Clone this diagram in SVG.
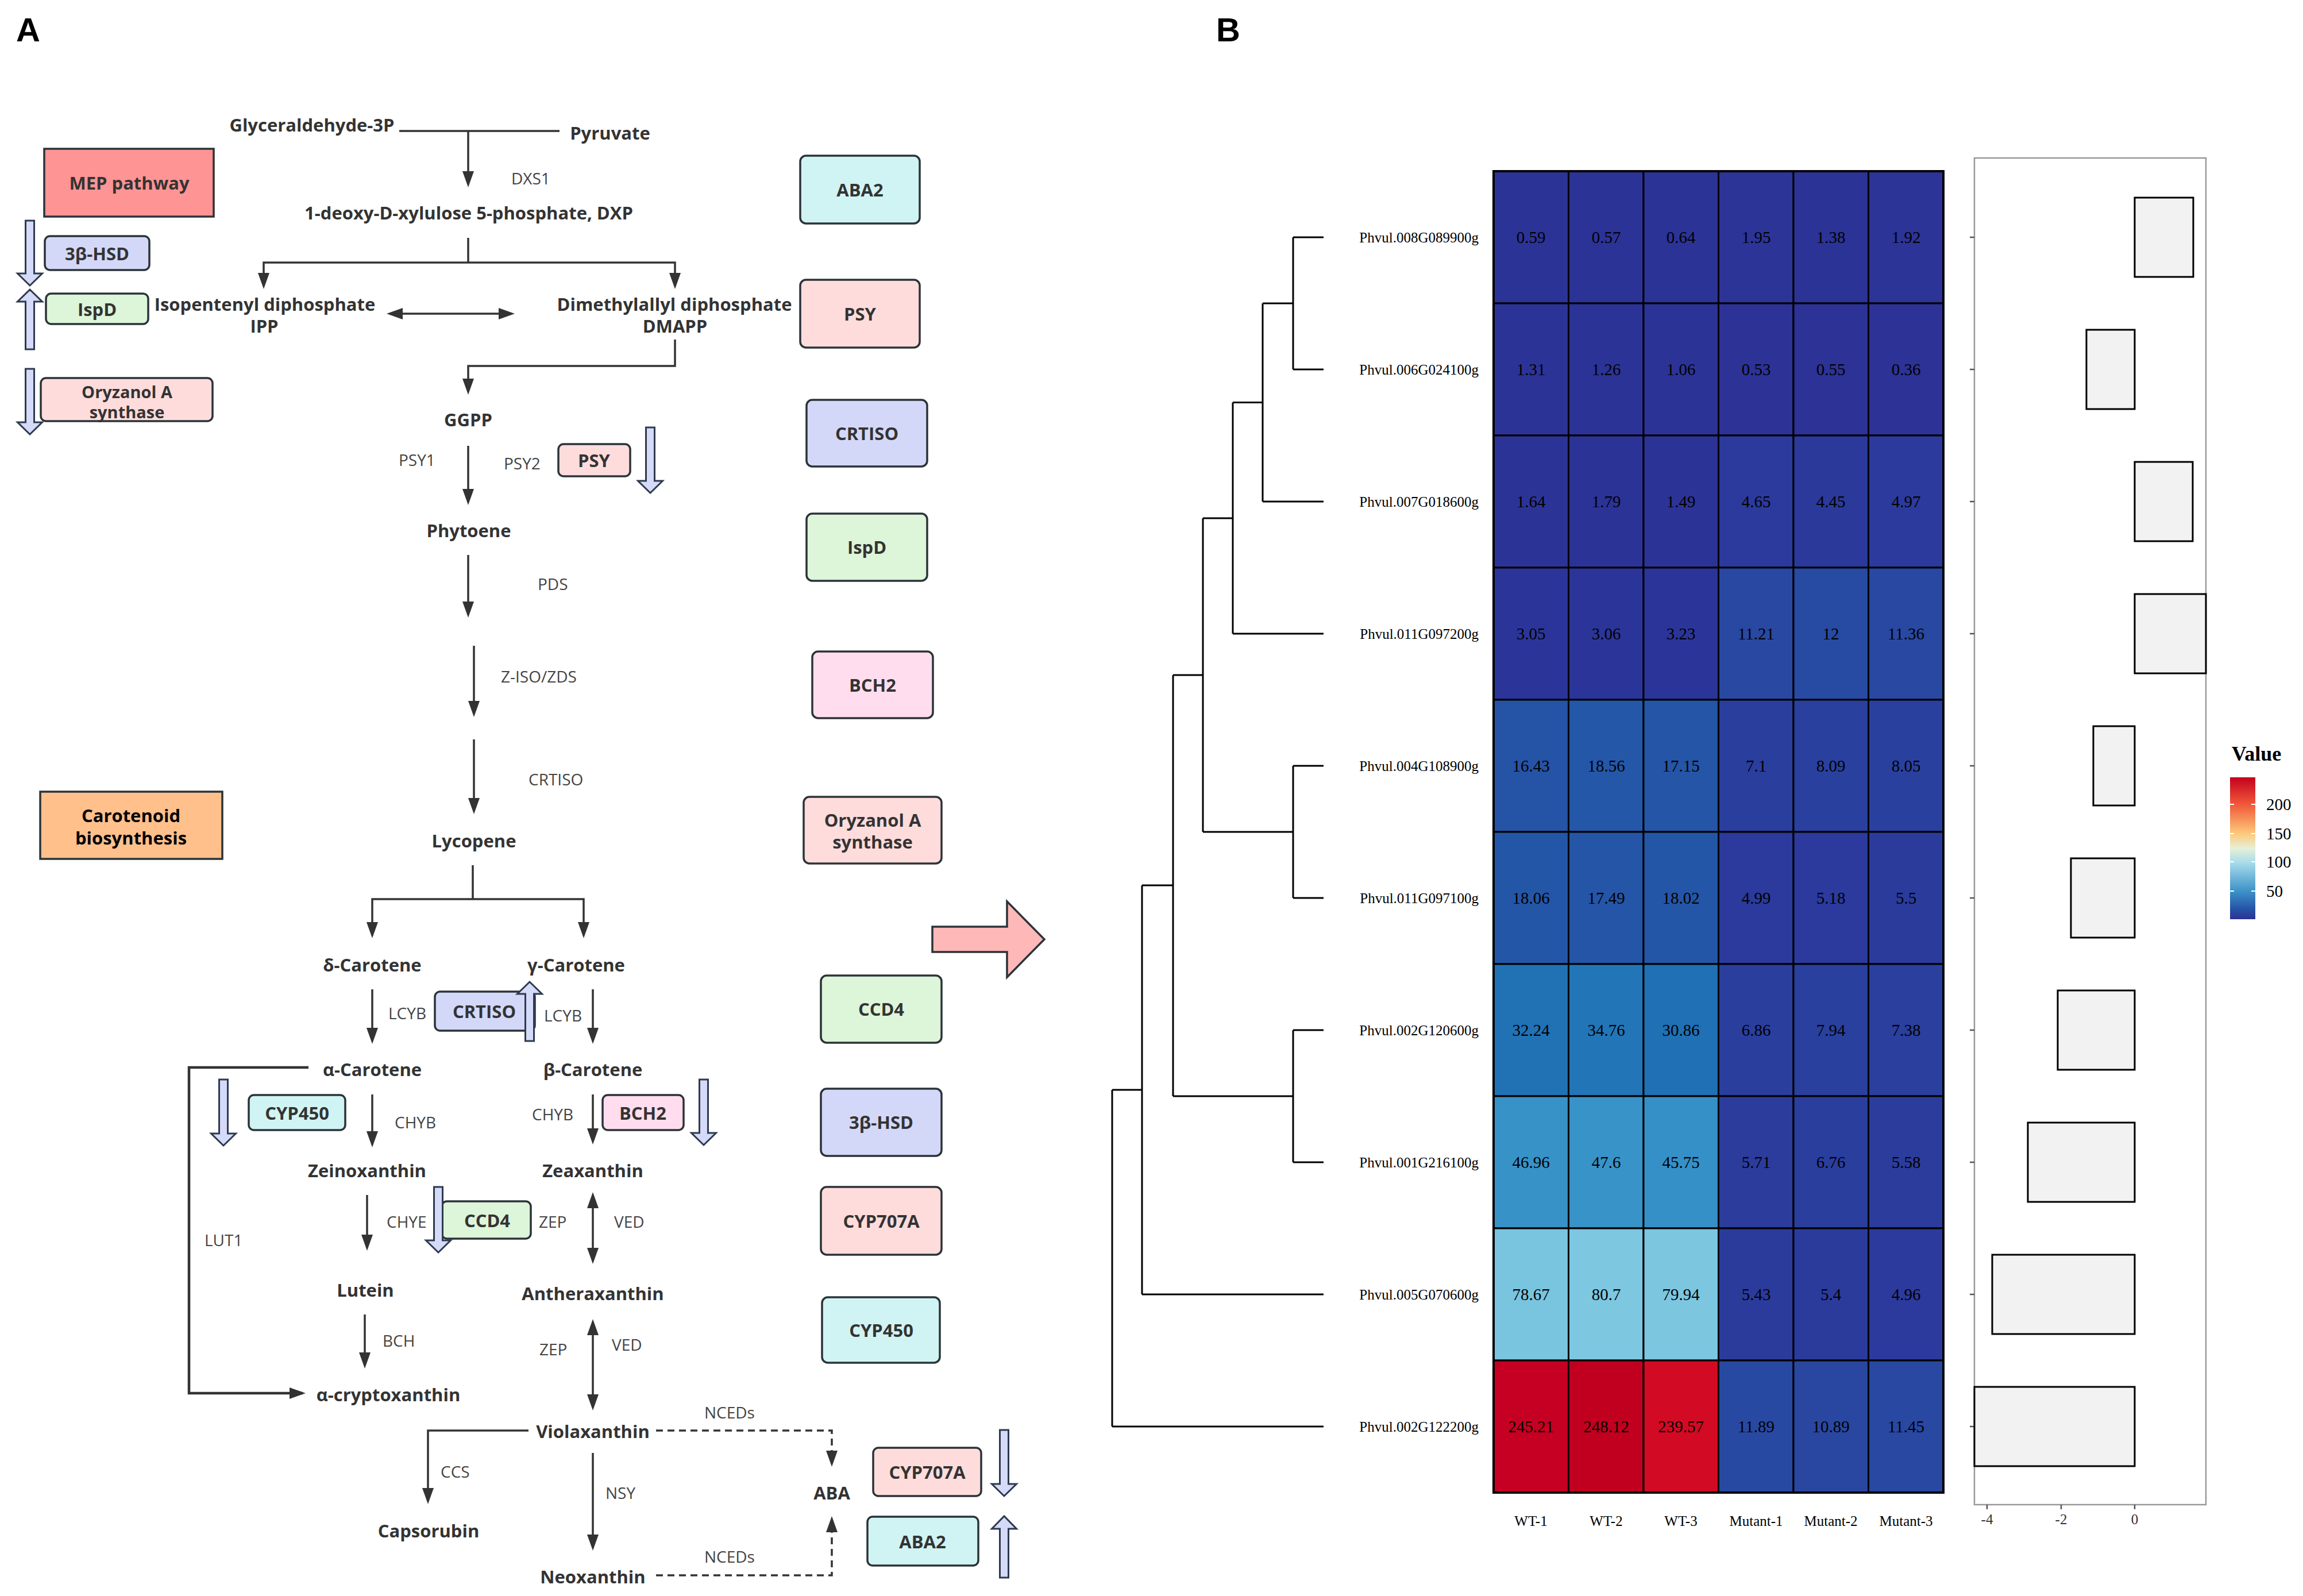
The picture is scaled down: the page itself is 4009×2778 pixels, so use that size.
<svg xmlns="http://www.w3.org/2000/svg" width="4009" height="2778" viewBox="0 0 4009 2778">
<style>
.m{font-family:"Open Sans","Noto Sans",sans-serif;font-weight:700;font-size:31px;fill:#333;text-anchor:middle;dominant-baseline:central}
.bt{font-family:"Open Sans","Noto Sans",sans-serif;font-weight:700;font-size:31px;fill:#333;text-anchor:middle;dominant-baseline:central}
.e{font-family:"Open Sans","Noto Sans",sans-serif;font-weight:400;font-size:28px;fill:#444;dominant-baseline:central}
.bx{stroke:#2B3338;stroke-width:3.5}
.ln{fill:none;stroke:#333;stroke-width:3.5}
.ds{fill:none;stroke:#333;stroke-width:3.5;stroke-dasharray:12 8}
.ba{fill:#D4DAF8;stroke:#2E3A4E;stroke-width:3}
.pl{font-family:"Liberation Sans",Arial,sans-serif;font-weight:700;font-size:58px;fill:#000}
.s{font-family:"Liberation Serif","Times New Roman",serif;fill:#000}
.v{font-size:29px;text-anchor:middle;dominant-baseline:central}
.g{font-size:25px;text-anchor:end;dominant-baseline:central}
.cl{font-size:25px;text-anchor:middle;dominant-baseline:central}
.cell{stroke:#000;stroke-width:3}
.dl{fill:none;stroke:#000;stroke-width:3}
.bar{fill:#F2F2F2;stroke:#000;stroke-width:3}
.cyan{fill:#D0F4F4}.pink{fill:#FFDCDC}.lav{fill:#D4D8F8}.grn{fill:#DDF5D8}.mag{fill:#FFDDEE}
</style>
<defs>
<marker id="ah" viewBox="0 0 28 20" refX="23" refY="10" markerWidth="28" markerHeight="20" markerUnits="userSpaceOnUse" orient="auto-start-reverse"><path d="M0,0 L28,10 L0,20 Z" fill="#333"/></marker>
<linearGradient id="cb" x1="0" y1="0" x2="0" y2="1">
<stop offset="0" stop-color="#C4001E"/>
<stop offset="0.19" stop-color="#F0583A"/>
<stop offset="0.395" stop-color="#FDC87A"/>
<stop offset="0.5" stop-color="#E6F0D8"/>
<stop offset="0.6" stop-color="#A8DCEB"/>
<stop offset="0.8" stop-color="#3E93C9"/>
<stop offset="0.93" stop-color="#2553A6"/>
<stop offset="1" stop-color="#2C3392"/>
</linearGradient>
</defs>
<rect width="4009" height="2778" fill="#fff"/>
<text class="pl" x="28" y="72">A</text>
<text class="pl" x="2117" y="72">B</text>

<!-- Panel A connectors -->
<g id="connectors">
<path class="ln" d="M695,228 H974"/>
<path class="ln" d="M815,228 V321" marker-end="url(#ah)"/>
<path class="ln" d="M815,414 V457"/>
<path class="ln" d="M459,498 V457 H1175 V498" marker-start="url(#ah)" marker-end="url(#ah)"/>
<path class="ln" d="M678,546 H891" marker-start="url(#ah)" marker-end="url(#ah)"/>
<path class="ln" d="M1175,591 V637 H815 V682" marker-end="url(#ah)"/>
<path class="ln" d="M815,776 V874" marker-end="url(#ah)"/>
<path class="ln" d="M815,966 V1070" marker-end="url(#ah)"/>
<path class="ln" d="M825,1124 V1243" marker-end="url(#ah)"/>
<path class="ln" d="M825,1287 V1412" marker-end="url(#ah)"/>
<path class="ln" d="M823,1506 V1565"/>
<path class="ln" d="M648,1628 V1565 H1016 V1628" marker-start="url(#ah)" marker-end="url(#ah)"/>
<path class="ln" d="M648,1722 V1812" marker-end="url(#ah)"/>
<path class="ln" d="M1032,1722 V1812" marker-end="url(#ah)"/>
<path class="ln" d="M537,1858 H329 V2425 H527" marker-end="url(#ah)" style="stroke-width:4.5"/>
<path class="ln" d="M648,1905 V1992" marker-end="url(#ah)"/>
<path class="ln" d="M1032,1905 V1987" marker-end="url(#ah)"/>
<path class="ln" d="M639,2080 V2172" marker-end="url(#ah)"/>
<path class="ln" d="M1032,2080 V2195" marker-start="url(#ah)" marker-end="url(#ah)"/>
<path class="ln" d="M635,2288 V2377" marker-end="url(#ah)"/>
<path class="ln" d="M1032,2301 V2450" marker-start="url(#ah)" marker-end="url(#ah)"/>
<path class="ln" d="M920,2490 H745 V2613" marker-end="url(#ah)"/>
<path class="ln" d="M1032,2529 V2694" marker-end="url(#ah)"/>
<path class="ds" d="M1142,2490 H1448 V2548" marker-end="url(#ah)"/>
<path class="ds" d="M1142,2742 H1448 V2644" marker-end="url(#ah)"/>
</g>

<!-- Enzyme labels -->
<g id="enzyme-labels">
<text class="e" x="890" y="310">DXS1</text>
<text class="e" x="694" y="800">PSY1</text>
<text class="e" x="877" y="806">PSY2</text>
<text class="e" x="936" y="1016">PDS</text>
<text class="e" x="872" y="1177">Z-ISO/ZDS</text>
<text class="e" x="920" y="1356">CRTISO</text>
<text class="e" x="676" y="1763">LCYB</text>
<text class="e" x="947" y="1767">LCYB</text>
<text class="e" x="687" y="1953">CHYB</text>
<text class="e" x="926" y="1939">CHYB</text>
<text class="e" x="673" y="2126">CHYE</text>
<text class="e" x="938" y="2126">ZEP</text>
<text class="e" x="1069" y="2126">VED</text>
<text class="e" x="356" y="2158">LUT1</text>
<text class="e" x="666" y="2333">BCH</text>
<text class="e" x="939" y="2348">ZEP</text>
<text class="e" x="1065" y="2340">VED</text>
<text class="e" x="767" y="2561">CCS</text>
<text class="e" x="1054" y="2598">NSY</text>
<text class="e" x="1226" y="2458">NCEDs</text>
<text class="e" x="1226" y="2709">NCEDs</text>
</g>

<!-- Metabolites -->
<g id="n-glyceraldehyde"><text class="m" x="543" y="217">Glyceraldehyde-3P</text></g>
<g id="n-pyruvate"><text class="m" x="1062" y="231">Pyruvate</text></g>
<g id="n-dxp"><text class="m" x="816" y="370">1-deoxy-D-xylulose 5-phosphate, DXP</text></g>
<g id="n-ipp"><text class="m" x="461" y="529">Isopentenyl diphosphate</text><text class="m" x="460" y="567">IPP</text></g>
<g id="n-dmapp"><text class="m" x="1174" y="529">Dimethylallyl diphosphate</text><text class="m" x="1175" y="567">DMAPP</text></g>
<g id="n-ggpp"><text class="m" x="815" y="730">GGPP</text></g>
<g id="n-phytoene"><text class="m" x="816" y="923">Phytoene</text></g>
<g id="n-lycopene"><text class="m" x="825" y="1463">Lycopene</text></g>
<g id="n-dcar"><text class="m" x="648" y="1679">δ-Carotene</text></g>
<g id="n-gcar"><text class="m" x="1003" y="1679">γ-Carotene</text></g>
<g id="n-acar"><text class="m" x="648" y="1861">α-Carotene</text></g>
<g id="n-bcar"><text class="m" x="1032" y="1861">β-Carotene</text></g>
<g id="n-zein"><text class="m" x="639" y="2037">Zeinoxanthin</text></g>
<g id="n-zea"><text class="m" x="1032" y="2037">Zeaxanthin</text></g>
<g id="n-lutein"><text class="m" x="636" y="2245">Lutein</text></g>
<g id="n-anth"><text class="m" x="1032" y="2251">Antheraxanthin</text></g>
<g id="n-acrypt"><text class="m" x="676" y="2427">α-cryptoxanthin</text></g>
<g id="n-viola"><text class="m" x="1032" y="2491">Violaxanthin</text></g>
<g id="n-capso"><text class="m" x="746" y="2664">Capsorubin</text></g>
<g id="n-neo"><text class="m" x="1032" y="2744">Neoxanthin</text></g>
<g id="n-aba"><text class="m" x="1448" y="2598">ABA</text></g>

<!-- Title boxes -->
<g id="n-mep"><rect x="77" y="259" width="295" height="118" fill="#FF9494" class="bx"/><text class="bt" x="225" y="318">MEP pathway</text></g>
<g id="n-carot"><rect x="70" y="1378" width="317" height="117" fill="#FFC08C" class="bx"/><text class="bt" x="228" y="1419" style="fill:#000">Carotenoid</text><text class="bt" x="228" y="1458" style="fill:#000">biosynthesis</text></g>

<!-- Left small boxes -->
<g id="n-hsd-left"><rect x="78" y="411" width="182" height="59" rx="9" class="bx lav"/><text class="bt" x="169" y="441">3β-HSD</text></g>
<g id="n-ispd-left"><rect x="80" y="511" width="178" height="53" rx="9" class="bx grn"/><text class="bt" x="169" y="538">IspD</text></g>
<g id="n-ory-left"><rect x="71" y="658" width="299" height="75" rx="9" class="bx pink"/><text class="bt" x="221" y="681" style="font-size:29px">Oryzanol A</text><text class="bt" x="221" y="716" style="font-size:29px">synthase</text></g>

<!-- Inline small boxes -->
<g id="n-psy-small"><rect x="972" y="773" width="125" height="56" rx="9" class="bx pink"/><text class="bt" x="1034" y="801">PSY</text></g>
<g id="n-crtiso-small"><rect x="757" y="1726" width="174" height="68" rx="9" class="bx lav"/><text class="bt" x="843" y="1760">CRTISO</text></g>
<g id="n-cyp450-small"><rect x="433" y="1906" width="168" height="61" rx="9" class="bx cyan"/><text class="bt" x="517" y="1937">CYP450</text></g>
<g id="n-bch2-small"><rect x="1049" y="1906" width="141" height="61" rx="9" class="bx mag"/><text class="bt" x="1119" y="1937">BCH2</text></g>
<g id="n-ccd4-small"><rect x="769" y="2091" width="155" height="65" rx="9" class="bx grn"/><text class="bt" x="848" y="2124">CCD4</text></g>
<g id="n-cyp707a-small"><rect x="1520" y="2520" width="188" height="84" rx="9" class="bx pink"/><text class="bt" x="1614" y="2562">CYP707A</text></g>
<g id="n-aba2-small"><rect x="1510" y="2640" width="193" height="85" rx="9" class="bx cyan"/><text class="bt" x="1606" y="2683">ABA2</text></g>

<!-- Right column boxes -->
<g id="n-aba2-big"><rect x="1393" y="271" width="208" height="118" rx="10" class="bx cyan"/><text class="bt" x="1497" y="330">ABA2</text></g>
<g id="n-psy-big"><rect x="1393" y="487" width="208" height="118" rx="10" class="bx pink"/><text class="bt" x="1497" y="546">PSY</text></g>
<g id="n-crtiso-big"><rect x="1404" y="696" width="210" height="116" rx="10" class="bx lav"/><text class="bt" x="1509" y="754">CRTISO</text></g>
<g id="n-ispd-big"><rect x="1404" y="894" width="210" height="117" rx="10" class="bx grn"/><text class="bt" x="1509" y="952">IspD</text></g>
<g id="n-bch2-big"><rect x="1414" y="1134" width="210" height="116" rx="10" class="bx mag"/><text class="bt" x="1519" y="1192">BCH2</text></g>
<g id="n-ory-big"><rect x="1399" y="1387" width="240" height="116" rx="10" class="bx pink"/><text class="bt" x="1519" y="1427">Oryzanol A</text><text class="bt" x="1519" y="1465">synthase</text></g>
<g id="n-ccd4-big"><rect x="1429" y="1698" width="210" height="117" rx="10" class="bx grn"/><text class="bt" x="1534" y="1756">CCD4</text></g>
<g id="n-hsd-big"><rect x="1429" y="1895" width="210" height="117" rx="10" class="bx lav"/><text class="bt" x="1534" y="1953">3β-HSD</text></g>
<g id="n-cyp707a-big"><rect x="1429" y="2066" width="210" height="118" rx="10" class="bx pink"/><text class="bt" x="1534" y="2125">CYP707A</text></g>
<g id="n-cyp450-big"><rect x="1431" y="2258" width="205" height="114" rx="10" class="bx cyan"/><text class="bt" x="1534" y="2315">CYP450</text></g>

<!-- Block arrows (up/down regulation) -->
<g id="reg-arrows">
<path class="ba" d="M44.5,384 H59.5 V476 H73.5 L52,497 L30.5,476 H44.5 Z"/>
<path class="ba" d="M44.5,608 H59.5 V525 H73.5 L52,504 L30.5,525 H44.5 Z"/>
<path class="ba" d="M44.5,642 H59.5 V735 H73.5 L52,756 L30.5,735 H44.5 Z"/>
<path class="ba" d="M1124.5,744 H1139.5 V837 H1153.5 L1132,858 L1110.5,837 H1124.5 Z"/>
<path class="ba" d="M914.5,1812 H929.5 V1730 H943.5 L922,1709 L900.5,1730 H914.5 Z"/>
<path class="ba" d="M381.5,1879 H396.5 V1973 H410.5 L389,1994 L367.5,1973 H381.5 Z"/>
<path class="ba" d="M1217.5,1879 H1232.5 V1972 H1246.5 L1225,1993 L1203.5,1972 H1217.5 Z"/>
<path class="ba" d="M755.5,2066 H770.5 V2159 H784.5 L763,2180 L741.5,2159 H755.5 Z"/>
<path class="ba" d="M1740.5,2489 H1755.5 V2583 H1769.5 L1748,2604 L1726.5,2583 H1740.5 Z"/>
<path class="ba" d="M1740.5,2746 H1755.5 V2661 H1769.5 L1748,2639 L1726.5,2661 H1740.5 Z"/>
</g>

<!-- Big transition arrow -->
<g id="n-big-arrow"><path d="M1623,1613 H1753 V1569 L1818,1635 L1753,1701 V1657 H1623 Z" fill="#FFB8B8" stroke="#2B3338" stroke-width="3.5"/></g>

<!-- Panel B: dendrogram -->
<g id="dendrogram" class="dl">
<path d="M2251,413 H2304 M2251,643 H2304 M2251,413 V643"/>
<path d="M2198,528 H2251 M2198,873 H2304 M2198,528 V873"/>
<path d="M2146,700.5 H2198 M2146,1103 H2304 M2146,700.5 V1103"/>
<path d="M2251,1333 H2304 M2251,1563 H2304 M2251,1333 V1563"/>
<path d="M2094,902 H2146 M2094,1448 H2251 M2094,902 V1448"/>
<path d="M2251,1793 H2304 M2251,2023 H2304 M2251,1793 V2023"/>
<path d="M2042,1175 H2094 M2042,1908 H2251 M2042,1175 V1908"/>
<path d="M1988,1541 H2042 M1988,2253 H2304 M1988,1541 V2253"/>
<path d="M1936,1897 H1988 M1936,2483 H2304 M1936,1897 V2483"/>
</g>

<!-- Gene labels -->
<g id="gene-labels" class="s">
<text class="g" x="2574" y="413">Phvul.008G089900g</text>
<text class="g" x="2574" y="643">Phvul.006G024100g</text>
<text class="g" x="2574" y="873">Phvul.007G018600g</text>
<text class="g" x="2574" y="1103">Phvul.011G097200g</text>
<text class="g" x="2574" y="1333">Phvul.004G108900g</text>
<text class="g" x="2574" y="1563">Phvul.011G097100g</text>
<text class="g" x="2574" y="1793">Phvul.002G120600g</text>
<text class="g" x="2574" y="2023">Phvul.001G216100g</text>
<text class="g" x="2574" y="2253">Phvul.005G070600g</text>
<text class="g" x="2574" y="2483">Phvul.002G122200g</text>
</g>

<!-- Heatmap -->
<g id="heatmap">
<g class="cell">
<rect x="2600" y="298" width="130.5" height="230" fill="#2C3397"/><rect x="2730.5" y="298" width="130.5" height="230" fill="#2C3397"/><rect x="2861" y="298" width="130.5" height="230" fill="#2C3397"/><rect x="2991.5" y="298" width="130.5" height="230" fill="#2C3498"/><rect x="3122" y="298" width="130.5" height="230" fill="#2C3397"/><rect x="3252.5" y="298" width="130.5" height="230" fill="#2C3498"/>
<rect x="2600" y="528" width="130.5" height="230" fill="#2C3397"/><rect x="2730.5" y="528" width="130.5" height="230" fill="#2C3397"/><rect x="2861" y="528" width="130.5" height="230" fill="#2C3397"/><rect x="2991.5" y="528" width="130.5" height="230" fill="#2C3296"/><rect x="3122" y="528" width="130.5" height="230" fill="#2C3296"/><rect x="3252.5" y="528" width="130.5" height="230" fill="#2C3296"/>
<rect x="2600" y="758" width="130.5" height="230" fill="#2C3397"/><rect x="2730.5" y="758" width="130.5" height="230" fill="#2C3397"/><rect x="2861" y="758" width="130.5" height="230" fill="#2C3397"/><rect x="2991.5" y="758" width="130.5" height="230" fill="#2B3A9C"/><rect x="3122" y="758" width="130.5" height="230" fill="#2B399B"/><rect x="3252.5" y="758" width="130.5" height="230" fill="#2B3A9C"/>
<rect x="2600" y="988" width="130.5" height="230" fill="#2B3599"/><rect x="2730.5" y="988" width="130.5" height="230" fill="#2B3599"/><rect x="2861" y="988" width="130.5" height="230" fill="#2B3599"/><rect x="2991.5" y="988" width="130.5" height="230" fill="#2848A2"/><rect x="3122" y="988" width="130.5" height="230" fill="#274AA3"/><rect x="3252.5" y="988" width="130.5" height="230" fill="#2848A2"/>
<rect x="2600" y="1218" width="130.5" height="230" fill="#2553A6"/><rect x="2730.5" y="1218" width="130.5" height="230" fill="#2457A8"/><rect x="2861" y="1218" width="130.5" height="230" fill="#2555A7"/><rect x="2991.5" y="1218" width="130.5" height="230" fill="#2A3E9E"/><rect x="3122" y="1218" width="130.5" height="230" fill="#2A409F"/><rect x="3252.5" y="1218" width="130.5" height="230" fill="#2A409F"/>
<rect x="2600" y="1448" width="130.5" height="230" fill="#2456A7"/><rect x="2730.5" y="1448" width="130.5" height="230" fill="#2555A7"/><rect x="2861" y="1448" width="130.5" height="230" fill="#2456A7"/><rect x="2991.5" y="1448" width="130.5" height="230" fill="#2B3A9C"/><rect x="3122" y="1448" width="130.5" height="230" fill="#2B3A9C"/><rect x="3252.5" y="1448" width="130.5" height="230" fill="#2B3B9C"/>
<rect x="2600" y="1678" width="130.5" height="230" fill="#2072B5"/><rect x="2730.5" y="1678" width="130.5" height="230" fill="#2276B7"/><rect x="2861" y="1678" width="130.5" height="230" fill="#1F70B4"/><rect x="2991.5" y="1678" width="130.5" height="230" fill="#2A3E9E"/><rect x="3122" y="1678" width="130.5" height="230" fill="#2A409F"/><rect x="3252.5" y="1678" width="130.5" height="230" fill="#2A3F9E"/>
<rect x="2600" y="1908" width="130.5" height="230" fill="#3792C8"/><rect x="2730.5" y="1908" width="130.5" height="230" fill="#3893C8"/><rect x="2861" y="1908" width="130.5" height="230" fill="#3590C7"/><rect x="2991.5" y="1908" width="130.5" height="230" fill="#2B3C9D"/><rect x="3122" y="1908" width="130.5" height="230" fill="#2A3E9E"/><rect x="3252.5" y="1908" width="130.5" height="230" fill="#2B3C9D"/>
<rect x="2600" y="2138" width="130.5" height="230" fill="#79C4DF"/><rect x="2730.5" y="2138" width="130.5" height="230" fill="#7DC7E1"/><rect x="2861" y="2138" width="130.5" height="230" fill="#7CC6E0"/><rect x="2991.5" y="2138" width="130.5" height="230" fill="#2B3B9C"/><rect x="3122" y="2138" width="130.5" height="230" fill="#2B3B9C"/><rect x="3252.5" y="2138" width="130.5" height="230" fill="#2B3A9C"/>
<rect x="2600" y="2368" width="130.5" height="230" fill="#C50022"/><rect x="2730.5" y="2368" width="130.5" height="230" fill="#C1001F"/><rect x="2861" y="2368" width="130.5" height="230" fill="#D20A24"/><rect x="2991.5" y="2368" width="130.5" height="230" fill="#2849A2"/><rect x="3122" y="2368" width="130.5" height="230" fill="#2947A1"/><rect x="3252.5" y="2368" width="130.5" height="230" fill="#2848A2"/>
</g>
<g class="s">
<text class="v" x="2665" y="413">0.59</text><text class="v" x="2796" y="413">0.57</text><text class="v" x="2926" y="413">0.64</text><text class="v" x="3057" y="413">1.95</text><text class="v" x="3187" y="413">1.38</text><text class="v" x="3318" y="413">1.92</text>
<text class="v" x="2665" y="643">1.31</text><text class="v" x="2796" y="643">1.26</text><text class="v" x="2926" y="643">1.06</text><text class="v" x="3057" y="643">0.53</text><text class="v" x="3187" y="643">0.55</text><text class="v" x="3318" y="643">0.36</text>
<text class="v" x="2665" y="873">1.64</text><text class="v" x="2796" y="873">1.79</text><text class="v" x="2926" y="873">1.49</text><text class="v" x="3057" y="873">4.65</text><text class="v" x="3187" y="873">4.45</text><text class="v" x="3318" y="873">4.97</text>
<text class="v" x="2665" y="1103">3.05</text><text class="v" x="2796" y="1103">3.06</text><text class="v" x="2926" y="1103">3.23</text><text class="v" x="3057" y="1103">11.21</text><text class="v" x="3187" y="1103">12</text><text class="v" x="3318" y="1103">11.36</text>
<text class="v" x="2665" y="1333">16.43</text><text class="v" x="2796" y="1333">18.56</text><text class="v" x="2926" y="1333">17.15</text><text class="v" x="3057" y="1333">7.1</text><text class="v" x="3187" y="1333">8.09</text><text class="v" x="3318" y="1333">8.05</text>
<text class="v" x="2665" y="1563">18.06</text><text class="v" x="2796" y="1563">17.49</text><text class="v" x="2926" y="1563">18.02</text><text class="v" x="3057" y="1563">4.99</text><text class="v" x="3187" y="1563">5.18</text><text class="v" x="3318" y="1563">5.5</text>
<text class="v" x="2665" y="1793">32.24</text><text class="v" x="2796" y="1793">34.76</text><text class="v" x="2926" y="1793">30.86</text><text class="v" x="3057" y="1793">6.86</text><text class="v" x="3187" y="1793">7.94</text><text class="v" x="3318" y="1793">7.38</text>
<text class="v" x="2665" y="2023">46.96</text><text class="v" x="2796" y="2023">47.6</text><text class="v" x="2926" y="2023">45.75</text><text class="v" x="3057" y="2023">5.71</text><text class="v" x="3187" y="2023">6.76</text><text class="v" x="3318" y="2023">5.58</text>
<text class="v" x="2665" y="2253">78.67</text><text class="v" x="2796" y="2253">80.7</text><text class="v" x="2926" y="2253">79.94</text><text class="v" x="3057" y="2253">5.43</text><text class="v" x="3187" y="2253">5.4</text><text class="v" x="3318" y="2253">4.96</text>
<text class="v" x="2665" y="2483">245.21</text><text class="v" x="2796" y="2483">248.12</text><text class="v" x="2926" y="2483">239.57</text><text class="v" x="3057" y="2483">11.89</text><text class="v" x="3187" y="2483">10.89</text><text class="v" x="3318" y="2483">11.45</text>
</g>
<rect x="2600" y="298" width="783" height="2300" fill="none" stroke="#000" stroke-width="4"/>
<g class="s">
<text class="cl" x="2665" y="2647">WT-1</text><text class="cl" x="2796" y="2647">WT-2</text><text class="cl" x="2926" y="2647">WT-3</text><text class="cl" x="3057" y="2647">Mutant-1</text><text class="cl" x="3187" y="2647">Mutant-2</text><text class="cl" x="3318" y="2647">Mutant-3</text>
</g>
</g>

<!-- Bar chart -->
<g id="barplot">
<rect x="3437" y="275" width="403" height="2344" fill="#fff" stroke="#999" stroke-width="2.5"/>
<path d="M3429,413 H3437 M3429,643 H3437 M3429,873 H3437 M3429,1103 H3437 M3429,1333 H3437 M3429,1563 H3437 M3429,1793 H3437 M3429,2023 H3437 M3429,2253 H3437 M3429,2483 H3437 M3459,2619 V2627 M3588,2619 V2627 M3716,2619 V2627" stroke="#555" stroke-width="2.5" fill="none"/>
<rect class="bar" x="3716" y="344" width="102" height="138"/>
<rect class="bar" x="3632" y="574" width="84" height="138"/>
<rect class="bar" x="3716" y="804" width="101" height="138"/>
<rect class="bar" x="3716" y="1034" width="124" height="138"/>
<rect class="bar" x="3644" y="1264" width="72" height="138"/>
<rect class="bar" x="3605" y="1494" width="111" height="138"/>
<rect class="bar" x="3582" y="1724" width="134" height="138"/>
<rect class="bar" x="3530" y="1954" width="186" height="138"/>
<rect class="bar" x="3468" y="2184" width="248" height="138"/>
<rect class="bar" x="3437" y="2414" width="279" height="138"/>
<g class="s" style="fill:#333">
<text class="cl" x="3459" y="2644">-4</text><text class="cl" x="3588" y="2644">-2</text><text class="cl" x="3716" y="2644">0</text>
</g>
</g>

<!-- Legend -->
<g id="legend">
<text class="s" x="3928" y="1324" style="font-size:36px;font-weight:700;text-anchor:middle">Value</text>
<rect x="3882" y="1353" width="44" height="247" fill="url(#cb)"/>
<path d="M3882,1400 H3889 M3919,1400 H3926 M3882,1451 H3889 M3919,1451 H3926 M3882,1500 H3889 M3919,1500 H3926 M3882,1551 H3889 M3919,1551 H3926" stroke="#fff" stroke-width="2"/>
<g class="s" style="font-size:29px;dominant-baseline:central">
<text x="3945" y="1400">200</text><text x="3945" y="1451">150</text><text x="3945" y="1500">100</text><text x="3945" y="1551">50</text>
</g>
</g>
</svg>
